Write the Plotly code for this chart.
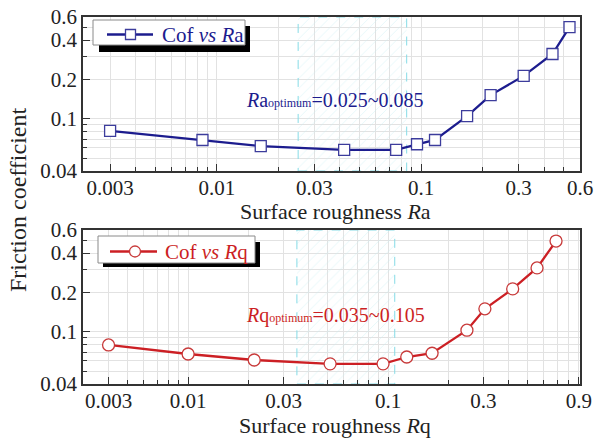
import numpy as np
import plotly.graph_objects as go

# ---------------- data ----------------
ra_x = [0.003, 0.0085, 0.0164, 0.042, 0.0755, 0.0955, 0.117, 0.168, 0.219, 0.318, 0.44, 0.533]
ra_cof = [0.081, 0.069, 0.062, 0.058, 0.058, 0.064, 0.069, 0.105, 0.152, 0.213, 0.313, 0.503]

rq_x = [0.004, 0.01, 0.0214, 0.0513, 0.0944, 0.124, 0.166, 0.248, 0.305, 0.42, 0.556, 0.692]
rq_cof = [0.0795, 0.0678, 0.061, 0.057, 0.057, 0.0643, 0.0687, 0.103, 0.150, 0.213, 0.308, 0.494]

ra_opt = [0.025, 0.085]
rq_opt = [0.035, 0.108]

ra_ticks = [0.003, 0.01, 0.03, 0.1, 0.3, 0.6]
ra_ticktext = ["0.003", "0.01", "0.03", "0.1", "0.3", "0.6"]
ra_minor = [0.004, 0.005, 0.006, 0.007, 0.008, 0.009, 0.02, 0.04, 0.05, 0.06,
            0.07, 0.08, 0.09, 0.2, 0.4, 0.5]
rq_ticks = [0.004, 0.01, 0.03, 0.1, 0.3, 0.9]
rq_ticktext = ["0.003", "0.01", "0.03", "0.1", "0.3", "0.9"]
rq_minor = [0.005, 0.006, 0.007, 0.008, 0.009, 0.02, 0.04, 0.05, 0.06, 0.07,
            0.08, 0.09, 0.2, 0.4, 0.5, 0.6, 0.7, 0.8]
y_ticks = [0.04, 0.1, 0.2, 0.4, 0.6]
y_ticktext = ["0.04", "0.1", "0.2", "0.4", "0.6"]
y_minor = [0.05, 0.06, 0.07, 0.08, 0.09, 0.3, 0.5]
y_lim = [0.04, 0.6]

ra_lim = [0.00221, 0.6]
rq_lim = [0.00298, 0.912]

legend_labels = ["Cof <i>vs</i> <i>R</i>a", "Cof <i>vs</i> <i>R</i>q"]
opt_labels = ["<i>R</i>a<span style='font-size:12px'>optimum</span>=0.025~0.085",
              "<i>R</i>q<span style='font-size:12px'>optimum</span>=0.035~0.105"]
x_titles = ["Surface roughness <i>R</i>a", "Surface roughness <i>R</i>q"]
y_title = "Friction coefficient"

BLUE = "#1c1c8e"
BLUE_M = "#3c3c9c"
RED = "#cc1f24"
RED_M = "#c83a3a"
CYAN = "#86dbe6"
FONT = "Liberation Serif, Times New Roman, serif"
TXT = "#222222"

W, H = 595, 446
ML, MT, MR, MB = 83, 17, 15, 62
PW = W - ML - MR
PH = H - MT - MB


def px(X):  # window x pixel -> paper fraction
    return (X - ML) / PW


def py(Y):  # window y pixel -> paper fraction
    return (H - MB - Y) / PH


fig = go.Figure()

# optimum hatched regions
for opt, xa, ya in [(ra_opt, "x", "y"), (rq_opt, "x2", "y2")]:
    fig.add_trace(go.Scatter(
        x=[opt[0], opt[1], opt[1], opt[0], opt[0]],
        y=[y_lim[0], y_lim[0], y_lim[1], y_lim[1], y_lim[0]],
        mode="lines", fill="toself",
        fillcolor="rgba(0,0,0,0)",
        fillpattern=dict(shape="/", fgcolor="#c6eef3", bgcolor="rgba(255,255,255,0)",
                         size=7, solidity=0.12),
        line=dict(color=CYAN, width=1, dash="dash"),
        showlegend=False, hoverinfo="skip", xaxis=xa, yaxis=ya))

fig.add_trace(go.Scatter(
    x=ra_x, y=ra_cof, mode="lines+markers", name="Cof vs Ra",
    line=dict(color=BLUE, width=2.3),
    marker=dict(symbol="square", size=11, color="white", line=dict(color=BLUE_M, width=1.3)),
    xaxis="x", yaxis="y", showlegend=False))

fig.add_trace(go.Scatter(
    x=rq_x, y=rq_cof, mode="lines+markers", name="Cof vs Rq",
    line=dict(color=RED, width=2.3),
    marker=dict(symbol="circle", size=12, color="white", line=dict(color=RED_M, width=1.3)),
    xaxis="x2", yaxis="y2", showlegend=False))

grid_c = "#e2e2e2"
axis_common = dict(showline=True, linecolor="#333333", linewidth=1.6, mirror=True,
                   ticks="inside", ticklen=7, tickwidth=1.2, tickcolor="#333333",
                   showgrid=True, gridcolor=grid_c, gridwidth=1, zeroline=False,
                   automargin=False, ticklabeloverflow="allow",
                   tickfont=dict(family=FONT, size=21, color=TXT))


def xaxis_cfg(lim, ticks, text, minor):
    return dict(type="log", range=[np.log10(lim[0]), np.log10(lim[1])],
                tickmode="array", tickvals=ticks, ticktext=text, ticklabelstandoff=-3,
                minor=dict(tickmode="array", tickvals=minor, ticks="inside", ticklen=4,
                           tickcolor="#333333", showgrid=True, gridcolor=grid_c),
                **axis_common)


def yaxis_cfg(domain):
    return dict(type="log", range=[np.log10(y_lim[0]), np.log10(y_lim[1])], domain=domain,
                tickmode="array", tickvals=y_ticks, ticktext=y_ticktext,
                minor=dict(tickmode="array", tickvals=y_minor, ticks="inside", ticklen=4,
                           tickcolor="#333333", showgrid=True, gridcolor=grid_c),
                **axis_common)


fig.update_layout(
    width=W, height=H,
    margin=dict(l=ML, r=MR, t=MT, b=MB),
    paper_bgcolor="white", plot_bgcolor="white",
    font=dict(family=FONT, size=20, color=TXT),
    xaxis=dict(anchor="y", domain=[0, 1], **xaxis_cfg(ra_lim, ra_ticks, ra_ticktext, ra_minor)),
    yaxis=dict(anchor="x", **yaxis_cfg([py(171), 1])),
    xaxis2=dict(anchor="y2", domain=[0, 1], **xaxis_cfg(rq_lim, rq_ticks, rq_ticktext, rq_minor)),
    yaxis2=dict(anchor="x2", **yaxis_cfg([0, py(230)])),
    showlegend=False,
)

# ---- hand-drawn legend boxes (with drop shadow) ----
legends = [
    dict(box=(93, 20, 245, 45), shadow=(99, 26, 250, 52), line=(107, 153), cy=34.5,
         mx=130.5, sym="rect", lc=BLUE, mc=BLUE_M, tx=160, text=legend_labels[0]),
    dict(box=(98, 236, 255, 263), shadow=(103, 242, 260, 267), line=(110, 157), cy=251.5,
         mx=135, sym="circle", lc=RED, mc=RED_M, tx=163, text=legend_labels[1]),
]
for lg in legends:
    sx0, sy0, sx1, sy1 = lg["shadow"]
    fig.add_shape(type="rect", xref="paper", yref="paper", x0=px(sx0), x1=px(sx1),
                  y0=py(sy1), y1=py(sy0), fillcolor="black", line=dict(width=0), layer="above")
    bx0, by0, bx1, by1 = lg["box"]
    fig.add_shape(type="rect", xref="paper", yref="paper", x0=px(bx0), x1=px(bx1),
                  y0=py(by1), y1=py(by0), fillcolor="white", line=dict(color="#8a8a8a", width=1),
                  layer="above")
    fig.add_shape(type="line", xref="paper", yref="paper", x0=px(lg["line"][0]), x1=px(lg["line"][1]),
                  y0=py(lg["cy"]), y1=py(lg["cy"]), line=dict(color=lg["lc"], width=2.3), layer="above")
    r = 5 if lg["sym"] == "rect" else 5.5
    fig.add_shape(type=lg["sym"], xref="paper", yref="paper", x0=px(lg["mx"] - r), x1=px(lg["mx"] + r),
                  y0=py(lg["cy"] + r), y1=py(lg["cy"] - r), fillcolor="white",
                  line=dict(color=lg["mc"], width=1.3), layer="above")
    fig.add_annotation(text=lg["text"], xref="paper", yref="paper", x=px(lg["tx"]), y=py(lg["cy"] + 0.5),
                       xanchor="left", yanchor="middle", showarrow=False,
                       font=dict(family=FONT, size=21, color=lg["lc"]))

fig.add_annotation(text=opt_labels[0], xref="paper", yref="paper",
                   x=px(335), y=py(100), xanchor="center", yanchor="middle", showarrow=False,
                   font=dict(family=FONT, size=20, color=BLUE))
fig.add_annotation(text=opt_labels[1], xref="paper", yref="paper",
                   x=px(335), y=py(315), xanchor="center", yanchor="middle", showarrow=False,
                   font=dict(family=FONT, size=20, color=RED))
fig.add_annotation(text=x_titles[0], xref="paper", yref="paper",
                   x=px(335), y=py(211), xanchor="center", yanchor="middle", showarrow=False,
                   font=dict(family=FONT, size=22, color=TXT))
fig.add_annotation(text=x_titles[1], xref="paper", yref="paper",
                   x=px(335), y=py(425), xanchor="center", yanchor="middle", showarrow=False,
                   font=dict(family=FONT, size=22, color=TXT))
fig.add_annotation(text=y_title, xref="paper", yref="paper",
                   x=px(18), y=py(200), xanchor="center", yanchor="middle", textangle=-90,
                   showarrow=False, font=dict(family=FONT, size=24, color=TXT))

fig.write_html("out.html", config={"displayModeBar": False},
               post_script="document.body.style.margin='0px';")
